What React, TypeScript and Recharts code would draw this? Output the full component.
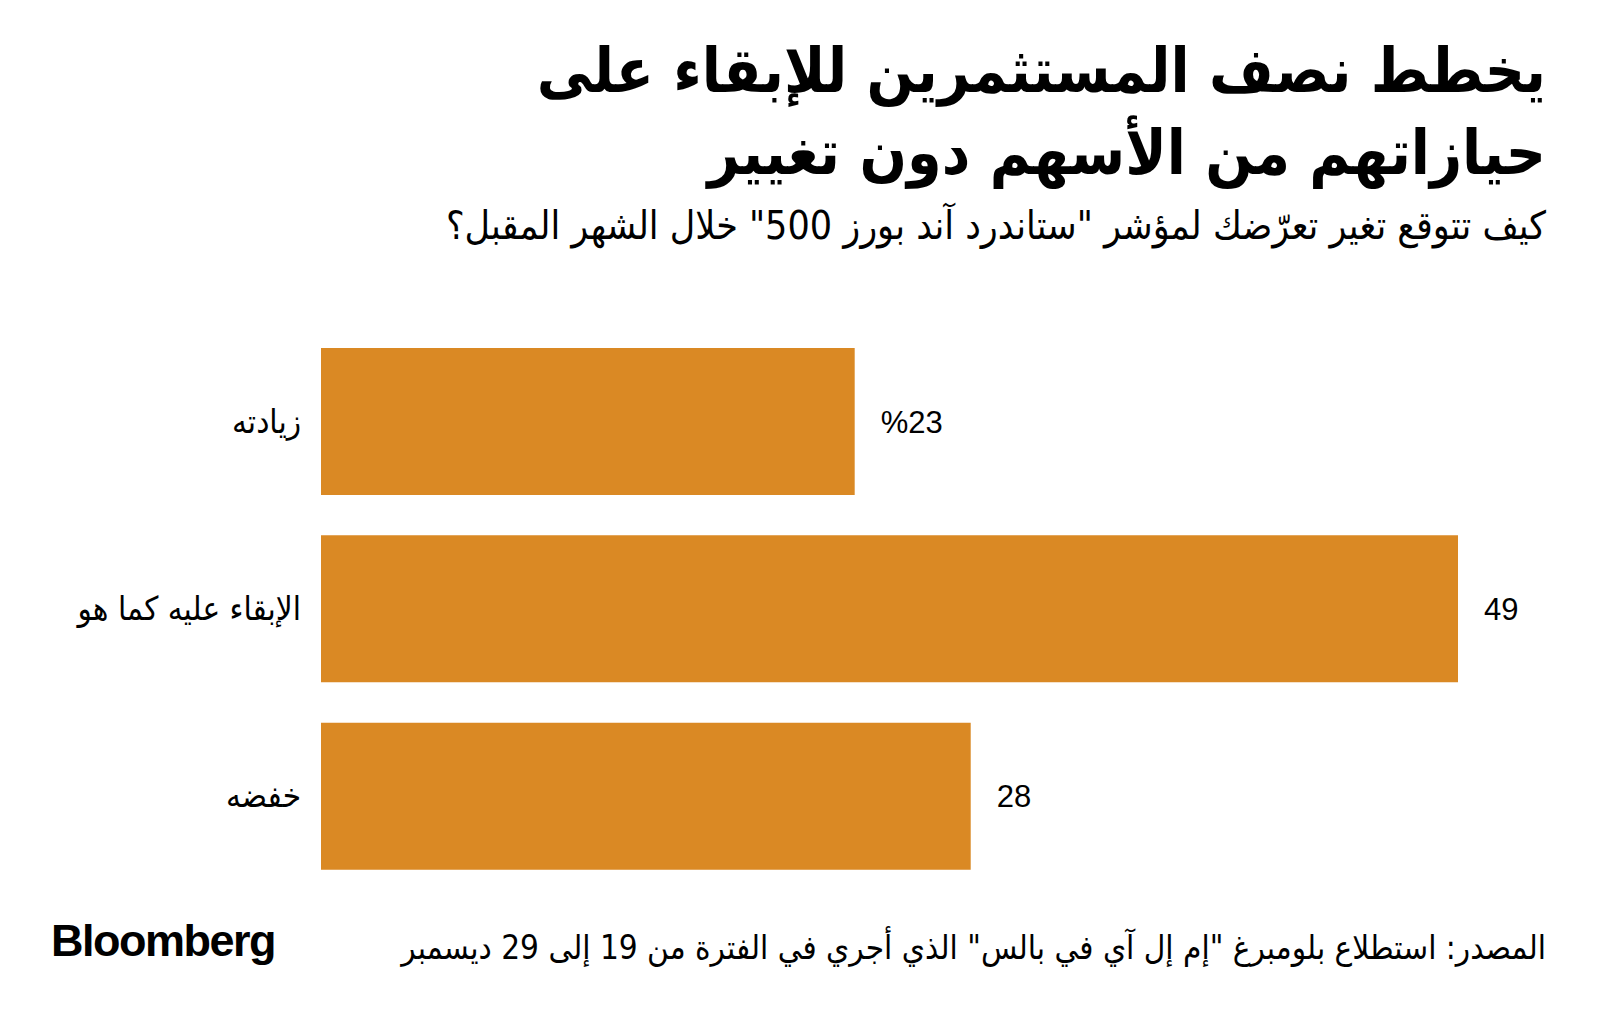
import React from 'react'
import { BarChart, Bar, XAxis, YAxis, LabelList } from 'recharts'

document.body.style.margin = '0'

const categories = ['زيادته', 'الإبقاء عليه كما هو', 'خفضه']
const shares = [23, 49, 28]
const valueLabels = ['%23', '49', '28']

const data = categories.map((name, i) => ({ name, value: shares[i], label: valueLabels[i] }))

const BAR_COLOR = '#DA8924'
const AR_FONT = '"DejaVu Sans Condensed", "DejaVu Sans", sans-serif'

function CategoryTick(props: any) {
  const { x, y, payload } = props
  return (
    <text x={x - 12} y={y} dy={11} textAnchor="end" fill="#000" fontSize={33} fontFamily={AR_FONT}>
      {payload.value}
    </text>
  )
}

export default function App() {
  return (
    <div style={{ position: 'relative', width: 1600, height: 1024, background: '#fff', overflow: 'hidden' }}>
      <div
        dir="rtl"
        style={{
          position: 'absolute',
          right: 54,
          top: 30,
          fontFamily: AR_FONT,
          fontWeight: 700,
          fontSize: 62,
          lineHeight: '82px',
          color: '#000',
          textAlign: 'right',
          whiteSpace: 'nowrap',
        }}
      >
        <div>يخطط نصف المستثمرين للإبقاء على</div>
        <div>حيازاتهم من الأسهم دون تغيير</div>
      </div>
      <div
        dir="rtl"
        style={{
          position: 'absolute',
          right: 54,
          top: 203,
          fontFamily: AR_FONT,
          fontSize: 39,
          color: '#000',
          textAlign: 'right',
          whiteSpace: 'nowrap',
        }}
      >
        كيف تتوقع تغير تعرّضك لمؤشر "ستاندرد آند بورز 500" خلال الشهر المقبل؟
      </div>

      <div style={{ position: 'absolute', left: 0, top: 328 }}>
        <BarChart
          width={1600}
          height={562}
          data={data}
          layout="vertical"
          margin={{ top: 0, right: 142, bottom: 0, left: 0 }}
          barCategoryGap={20}
        >
          <XAxis type="number" domain={[0, 49]} hide />
          <YAxis
            type="category"
            dataKey="name"
            width={321}
            axisLine={false}
            tickLine={false}
            tick={<CategoryTick />}
          />
          <Bar dataKey="value" fill={BAR_COLOR} isAnimationActive={false}>
            <LabelList
              dataKey="label"
              position="right"
              offset={26}
              fill="#000"
              fontSize={31}
              fontFamily='"Liberation Sans Narrow", "Liberation Sans", sans-serif'
            />
          </Bar>
        </BarChart>
      </div>

      <div
        style={{
          position: 'absolute',
          left: 51,
          top: 915,
          fontFamily: '"Liberation Sans", Arial, sans-serif',
          fontWeight: 700,
          fontSize: 45,
          letterSpacing: -1.5,
          color: '#000',
        }}
      >
        Bloomberg
      </div>
      <div
        dir="rtl"
        style={{
          position: 'absolute',
          right: 54,
          top: 928,
          fontFamily: AR_FONT,
          fontSize: 33,
          color: '#000',
          whiteSpace: 'nowrap',
        }}
      >
        المصدر: استطلاع بلومبرغ "إم إل آي في بالس" الذي أجري في الفترة من 19 إلى 29 ديسمبر
      </div>
    </div>
  )
}
